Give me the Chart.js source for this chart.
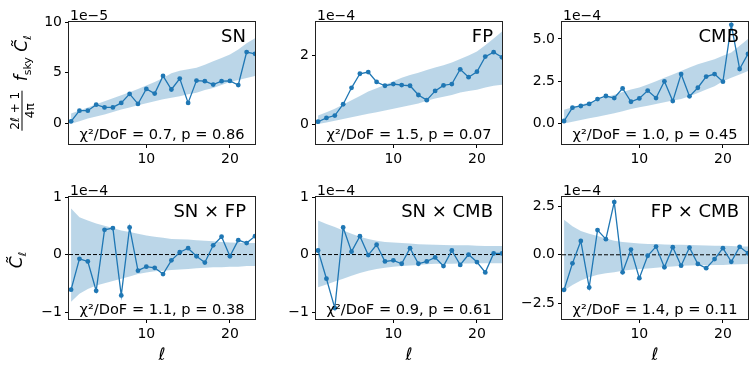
<!DOCTYPE html>
<html><head><meta charset="utf-8">
<script src="https://cdn.jsdelivr.net/npm/chart.js@4/dist/chart.umd.min.js"></script>
<style>
body{margin:0;background:#fff;}
#fig{position:relative;width:756px;height:373px;overflow:hidden;font-family:"DejaVu Sans",sans-serif;background:#fff;}
canvas{position:absolute;}
.lab{position:absolute;color:#000;white-space:nowrap;font-family:"DejaVu Sans",sans-serif;line-height:1;}
.rot{transform:translate(-50%,-50%) rotate(-90deg);}
.frac{display:inline-flex;flex-direction:column;align-items:center;vertical-align:middle;font-size:12px;margin-right:4px;}
.frac .num{border-bottom:1px solid #000;padding:0 1px 1px 1px;}
.frac .den{padding-top:1px;}
sub{font-size:11px;vertical-align:-4px;font-style:normal;}
</style></head><body><div id="fig"></div>
<script>
// ---------- data ----------
const ell = [1,2,3,4,5,6,7,8,9,10,11,12,13,14,15,16,17,18,19,20,21,22,23];
const xTicks = [10, 20];
const xTickLabels = ['10', '20'];

// SN auto (units 1e-5)
const snVals = [0.23,1.28,1.28,1.87,1.6,1.6,2.04,2.93,1.94,3.42,2.96,4.7,3.36,4.44,2.04,4.24,4.18,3.85,4.18,4.2,3.8,7.04,6.87];
const snUp   = [1.0,1.3,1.6,1.9,2.2,2.5,2.8,3.1,3.4,3.75,4.1,4.5,4.95,5.2,5.35,5.5,5.8,6.15,6.45,6.8,7.3,7.9,8.4];
const snLo   = [0.0,0.25,0.5,0.7,0.9,1.15,1.4,1.6,1.8,2.0,2.2,2.4,2.55,2.7,2.9,3.05,3.3,3.5,3.8,4.1,4.3,4.5,4.7];
const snYTicks = [0, 5, 10];
const snYLabels = ['0', '5', '10'];

// FP auto (units 1e-4)
const fpVals = [0.07,0.18,0.25,0.58,1.06,1.47,1.52,1.23,1.12,1.17,1.14,1.12,0.85,0.70,0.97,1.13,1.17,1.6,1.37,1.53,1.97,2.1,1.95];
const fpUp   = [0.25,0.35,0.45,0.57,0.7,0.82,0.95,1.05,1.15,1.25,1.35,1.43,1.5,1.58,1.65,1.72,1.8,1.9,2.0,2.12,2.3,2.5,2.7];
const fpLo   = [0.0,0.05,0.1,0.15,0.2,0.25,0.3,0.35,0.4,0.45,0.5,0.55,0.6,0.68,0.75,0.8,0.85,0.92,0.97,1.0,1.07,1.12,1.15];
const fpYTicks = [0, 2];
const fpYLabels = ['0', '2'];

// CMB auto (units 1e-4)
const cmbVals = [0.14,0.93,1.03,1.15,1.44,1.62,1.5,2.07,1.28,1.48,1.94,1.5,2.49,1.32,2.92,1.6,2.11,2.77,2.92,2.47,5.83,3.22,4.11];
const cmbUp   = [0.8,0.95,1.1,1.25,1.4,1.55,1.7,1.85,2.0,2.13,2.3,2.5,2.7,2.9,3.1,3.3,3.5,3.65,3.8,4.0,4.2,4.6,5.0];
const cmbLo   = [0.0,0.1,0.2,0.3,0.4,0.5,0.6,0.72,0.85,0.95,1.05,1.15,1.25,1.35,1.45,1.6,1.8,2.0,2.2,2.5,2.7,2.9,3.1];
const cmbYTicks = [0, 2.5, 5];
const cmbYLabels = ['0.0', '2.5', '5.0'];

// SN x FP (units 1e-4)
const snfpVals = [-0.61,-0.075,-0.12,-0.63,0.43,0.46,-0.71,0.47,-0.28,-0.21,-0.23,-0.34,-0.10,0.04,0.11,-0.03,-0.14,0.16,0.31,-0.03,0.25,0.2,0.32];
const snfpUp   = [0.8,0.65,0.59,0.54,0.5,0.46,0.42,0.39,0.36,0.33,0.31,0.29,0.27,0.265,0.26,0.25,0.24,0.23,0.22,0.21,0.205,0.2,0.2];
const snfpLo   = [-0.82,-0.68,-0.6,-0.54,-0.5,-0.46,-0.42,-0.38,-0.34,-0.31,-0.29,-0.28,-0.27,-0.26,-0.25,-0.24,-0.23,-0.22,-0.22,-0.21,-0.21,-0.2,-0.2];
const crossYTicks = [-1, 0, 1];
const crossYLabels = ['\u22121', '0', '1'];

// SN x CMB (units 1e-4)
const sncmbVals = [0.07,-0.42,-0.93,0.47,0.05,0.32,-0.01,0.17,-0.12,-0.10,-0.16,0.11,-0.16,-0.12,-0.05,-0.2,0.07,-0.18,0.0,-0.13,-0.31,0.02,0.02];
const sncmbUp   = [0.59,0.53,0.48,0.42,0.36,0.31,0.27,0.24,0.22,0.21,0.2,0.19,0.18,0.175,0.17,0.165,0.16,0.16,0.16,0.155,0.15,0.15,0.15];
const sncmbLo   = [-0.57,-0.52,-0.47,-0.42,-0.37,-0.32,-0.28,-0.25,-0.23,-0.21,-0.2,-0.19,-0.18,-0.17,-0.16,-0.16,-0.16,-0.155,-0.155,-0.15,-0.15,-0.15,-0.15];

// FP x CMB (units 1e-4)
const fpcmbVals = [-1.8,-0.44,0.71,-1.68,1.27,0.8,2.71,-0.9,0.27,-1.2,-0.05,0.42,-0.64,0.39,-0.56,0.37,-0.47,-0.69,-0.22,0.34,-0.36,0.41,0.08];
const fpcmbUp   = [1.8,1.47,1.22,1.08,0.97,0.84,0.72,0.66,0.62,0.58,0.56,0.55,0.53,0.52,0.51,0.5,0.49,0.48,0.47,0.46,0.45,0.43,0.42];
const fpcmbLo   = [-1.83,-1.55,-1.32,-1.15,-1.03,-0.95,-0.9,-0.82,-0.77,-0.73,-0.7,-0.66,-0.63,-0.6,-0.56,-0.55,-0.54,-0.54,-0.53,-0.53,-0.5,-0.48,-0.47];
const fpcmbYTicks = [-2.5, 0, 2.5];
const fpcmbYLabels = ['\u22122.5', '0.0', '2.5'];

const names = ['SN', 'FP', 'CMB', 'SN \u00d7 FP', 'SN \u00d7 CMB', 'FP \u00d7 CMB'];
const chiTexts = ['\u03c7\u00b2/DoF = 0.7, p = 0.86', '\u03c7\u00b2/DoF = 1.5, p = 0.07', '\u03c7\u00b2/DoF = 1.0, p = 0.45',
                  '\u03c7\u00b2/DoF = 1.1, p = 0.38', '\u03c7\u00b2/DoF = 0.9, p = 0.61', '\u03c7\u00b2/DoF = 1.4, p = 0.11'];
const offsets = ['1e\u22125', '1e\u22124', '1e\u22124', '1e\u22124', '1e\u22124', '1e\u22124'];

// ---------- layout ----------
const FONT = '"DejaVu Sans", sans-serif';
const C0 = '#1f77b4';
const BAND = 'rgba(31,119,180,0.3)';
const colL = [69, 316, 562];
const rowT = [22, 197];
const W = 186, H = 122;
const XMIN = 0.75, XMAX = 23;

const panels = [
  {vals: snVals, up: snUp, lo: snLo, ymin: -2, ymax: 10, yt: snYTicks, yl: snYLabels, zero: false},
  {vals: fpVals, up: fpUp, lo: fpLo, ymin: -0.58, ymax: 2.98, yt: fpYTicks, yl: fpYLabels, zero: false},
  {vals: cmbVals, up: cmbUp, lo: cmbLo, ymin: -1.22, ymax: 6.0, yt: cmbYTicks, yl: cmbYLabels, zero: false},
  {vals: snfpVals, up: snfpUp, lo: snfpLo, ymin: -1.12, ymax: 1.0, yt: crossYTicks, yl: crossYLabels, zero: true},
  {vals: sncmbVals, up: sncmbUp, lo: sncmbLo, ymin: -1.12, ymax: 1.0, yt: crossYTicks, yl: crossYLabels, zero: true},
  {vals: fpcmbVals, up: fpcmbUp, lo: fpcmbLo, ymin: -3.3, ymax: 2.97, yt: fpcmbYTicks, yl: fpcmbYLabels, zero: true},
];

const fig = document.getElementById('fig');

const decor = {
  id: 'decor',
  afterDraw(chart, args, o) {
    const ctx = chart.ctx, a = chart.chartArea;
    ctx.save();
    ctx.strokeStyle = '#222';
    ctx.lineWidth = 1;
    ctx.strokeRect(a.left - 0.5, a.top - 0.5, a.right - a.left + 1, a.bottom - a.top + 1);
    ctx.fillStyle = '#000';
    ctx.font = '18px ' + FONT;
    ctx.textAlign = 'right';
    ctx.textBaseline = 'alphabetic';
    ctx.fillText(o.name, a.right - 9, a.top + 19.5);
    ctx.font = '14.6px ' + FONT;
    ctx.textAlign = 'center';
    ctx.fillText(o.chi, (a.left + a.right) / 2, a.bottom - 5.5);
    ctx.font = '14px ' + FONT;
    ctx.textAlign = 'left';
    ctx.fillText(o.offset, a.left + 1, a.top - 2.5);
    ctx.restore();
  }
};

panels.forEach((p, k) => {
  const L = colL[k % 3], T = rowT[Math.floor(k / 3)];
  const padL = 62, padT = 24, padR = 10, padB = 32;
  const cv = document.createElement('canvas');
  const cw = W + padL + padR, ch = H + padT + padB;
  cv.width = cw; cv.height = ch;
  cv.style.left = (L - padL) + 'px';
  cv.style.top = (T - padT) + 'px';
  cv.style.width = cw + 'px';
  cv.style.height = ch + 'px';
  fig.appendChild(cv);

  const datasets = [
    {data: ell.map((x, i) => ({x: x, y: p.vals[i]})), borderColor: C0, backgroundColor: C0,
     borderWidth: 1.3, pointRadius: 2.4, pointBorderWidth: 0, pointBackgroundColor: C0, fill: false, order: 0}
  ];
  if (p.zero) {
    datasets.push({data: [{x: XMIN, y: 0}, {x: XMAX, y: 0}], borderColor: '#000', borderWidth: 1,
      borderDash: [4, 2], pointRadius: 0, fill: false, order: 1});
  }
  datasets.push({data: ell.map((x, i) => ({x: x, y: p.up[i]})), borderWidth: 0, borderColor: 'rgba(0,0,0,0)',
    pointRadius: 0, fill: false, order: 3});
  datasets.push({data: ell.map((x, i) => ({x: x, y: p.lo[i]})), borderWidth: 0, borderColor: 'rgba(0,0,0,0)',
    backgroundColor: BAND, pointRadius: 0, fill: '-1', order: 4});

  new Chart(cv, {
    type: 'line',
    data: {datasets: datasets},
    options: {
      responsive: false, animation: false, devicePixelRatio: 1,
      layout: {padding: {left: 0, top: padT, right: padR, bottom: 0}},
      plugins: {legend: {display: false}, tooltip: {enabled: false},
        decor: {name: names[k], chi: chiTexts[k], offset: offsets[k]}},
      elements: {line: {tension: 0}},
      scales: {
        x: {type: 'linear', min: XMIN, max: XMAX,
          afterBuildTicks: s => { s.ticks = xTicks.map(v => ({value: v})); },
          afterFit: s => { s.height = padB; },
          ticks: {font: {size: 14, family: FONT}, color: '#000', padding: 3, maxRotation: 0, autoSkip: false,
            callback: (v, i) => xTickLabels[i]},
          grid: {display: true, drawOnChartArea: false, drawTicks: true, tickLength: 4, color: '#000'},
          border: {display: false}},
        y: {type: 'linear', min: p.ymin, max: p.ymax,
          afterBuildTicks: s => { s.ticks = p.yt.map(v => ({value: v})); },
          afterFit: s => { s.width = padL; },
          ticks: {font: {size: 14, family: FONT}, color: '#000', padding: 3, autoSkip: false,
            callback: (v, i) => p.yl[i]},
          grid: {display: true, drawOnChartArea: false, drawTicks: true, tickLength: 4, color: '#000'},
          border: {display: false}}
      }
    },
    plugins: [decor]
  });
});

// axis labels as text
function addLab(html, x, y, size, rotate, italic) {
  const d = document.createElement('div');
  d.className = 'lab' + (rotate ? ' rot' : '');
  d.innerHTML = html;
  d.style.left = x + 'px';
  d.style.top = y + 'px';
  d.style.fontSize = size + 'px';
  if (!rotate) d.style.transform = 'translate(-50%,-50%)';
  if (italic) d.style.fontStyle = 'italic';
  fig.appendChild(d);
}
addLab('<span class="frac"><span class="num">2<i>\u2113</i> + 1</span><span class="den">4\u03c0</span></span> <i>f</i><sub>sky</sub> <i>C\u0303</i><sub><i>\u2113</i></sub>', 22, 83, 17, true, false);
addLab('<i>C\u0303</i><sub><i>\u2113</i></sub>', 18, 260, 17, true, false);
[162, 409, 655].forEach(x => addLab('\u2113', x, 354, 17, false, true));
</script>
</body></html>
